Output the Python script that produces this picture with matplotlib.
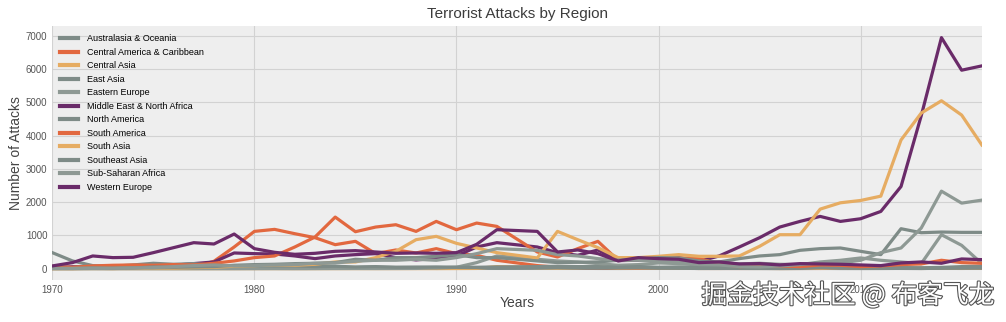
import matplotlib
matplotlib.use('Agg')
import matplotlib.pyplot as plt
import matplotlib.patheffects as pe
import pandas as pd

plt.rcParams['font.family'] = ['Liberation Sans', 'DejaVu Sans']

# years in the database (1993 is missing)
years = list(range(1970, 1993)) + list(range(1994, 2017))

australasia = [1, 1, 0, 1, 0, 0, 0, 0, 0, 1, 2, 4, 1, 2, 6, 8, 12, 20, 15, 5, 10, 12, 8,
               12, 10, 8, 5, 4, 6, 12, 8, 4, 5, 5, 3, 2, 3, 6, 3, 2, 3, 6, 3, 10, 20, 15]
central_america = [7, 5, 8, 6, 10, 20, 25, 45, 220, 650, 1120, 1180, 1050, 930, 720, 820, 450, 560, 470, 600, 450, 400, 250,
                   90, 40, 30, 20, 15, 10, 10, 8, 5, 5, 4, 5, 5, 5, 4, 8, 6, 6, 7, 8, 6, 8, 12]
central_asia = [0, 0, 0, 0, 0, 0, 0, 0, 0, 0, 0, 0, 0, 0, 0, 0, 0, 0, 0, 0, 2, 5, 60,
                30, 15, 25, 50, 20, 25, 15, 10, 5, 4, 10, 8, 3, 5, 10, 15, 20, 12, 10, 5, 8, 5, 10]
east_asia = [2, 1, 6, 4, 12, 10, 6, 20, 30, 15, 25, 20, 30, 20, 25, 30, 40, 35, 40, 30, 35, 30, 20,
             25, 30, 20, 15, 20, 25, 10, 8, 5, 5, 5, 5, 4, 6, 40, 15, 8, 8, 5, 5, 8, 10, 12]
eastern_europe = [0, 0, 1, 0, 2, 1, 0, 1, 2, 1, 2, 1, 2, 3, 2, 3, 2, 3, 5, 20, 40, 180, 380,
                  280, 230, 200, 150, 100, 120, 170, 150, 110, 150, 140, 160, 130, 120, 200, 250, 320, 250, 200, 150, 1020, 700, 150]
middle_east = [28, 55, 53, 25, 60, 95, 100, 150, 200, 470, 450, 440, 380, 300, 380, 420, 450, 330, 260, 310, 380, 650, 780,
               650, 480, 400, 560, 240, 250, 300, 330, 220, 380, 650, 930, 1250, 1420, 1570, 1420, 1500, 1720, 2470, 4600, 6950, 5970, 6100]
north_america = [480, 230, 90, 70, 110, 160, 130, 150, 100, 75, 90, 80, 80, 60, 70, 50, 60, 40, 40, 50, 40, 40, 50,
                 60, 70, 60, 60, 40, 60, 40, 50, 35, 40, 10, 25, 10, 20, 25, 20, 25, 20, 30, 25, 35, 60, 70]
south_america = [65, 40, 80, 100, 110, 100, 120, 110, 160, 230, 330, 380, 650, 950, 1550, 1110, 1250, 1320, 1120, 1420, 1170, 1370, 1270,
                 500, 350, 600, 820, 250, 280, 280, 320, 300, 150, 60, 80, 80, 60, 110, 100, 60, 80, 120, 140, 250, 180, 160]
south_asia = [1, 1, 10, 2, 15, 20, 15, 30, 40, 70, 90, 110, 100, 130, 200, 200, 330, 520, 870, 970, 760, 620, 480,
              320, 1120, 870, 630, 330, 330, 370, 420, 370, 370, 380, 670, 1020, 1020, 1790, 1980, 2050, 2180, 3870, 4680, 5050, 4620, 3720]
southeast_asia = [10, 5, 20, 10, 20, 50, 40, 50, 60, 100, 120, 130, 150, 160, 180, 280, 250, 330, 330, 370, 420, 330, 330,
                  230, 180, 190, 200, 250, 280, 330, 320, 230, 200, 300, 380, 420, 550, 600, 620, 520, 420, 1200, 1080, 1100, 1090, 1090]
sub_saharan = [3, 5, 8, 10, 20, 30, 60, 90, 110, 80, 90, 110, 120, 160, 170, 220, 250, 250, 280, 250, 330, 450, 600,
               550, 420, 380, 300, 250, 250, 230, 200, 120, 110, 60, 50, 80, 120, 170, 170, 250, 480, 620, 1220, 2330, 1970, 2060]
western_europe = [80, 180, 380, 330, 340, 480, 630, 780, 740, 1040, 600, 490, 430, 460, 520, 540, 500, 460, 470, 460, 480, 730, 1170,
                  1120, 500, 560, 450, 230, 330, 300, 280, 180, 200, 140, 150, 110, 150, 140, 130, 110, 90, 170, 200, 160, 290, 270]

regions = ['Australasia & Oceania', 'Central America & Caribbean', 'Central Asia', 'East Asia',
           'Eastern Europe', 'Middle East & North Africa', 'North America', 'South America',
           'South Asia', 'Southeast Asia', 'Sub-Saharan Africa', 'Western Europe']

df = pd.DataFrame(dict(zip(regions, [australasia, central_america, central_asia, east_asia,
                                     eastern_europe, middle_east, north_america, south_america,
                                     south_asia, southeast_asia, sub_saharan, western_europe])),
                  index=years)

palette = ['#7e8b87', '#e2683f', '#e6ac62', '#7e8b87', '#8e9994', '#6a2b69']
colors = [palette[i % len(palette)] for i in range(len(regions))]

fig = plt.figure(figsize=(10.06, 3.22), dpi=100)
ax = fig.add_axes([0.052, 0.130, 0.924, 0.789])
ax.set_facecolor('#eeeeee')
df.plot(ax=ax, color=colors, lw=2.3, legend=False)

ax.set_xlim(1970, 2016)
ax.margins(y=0.05)
ax.set_xticks([1970, 1980, 1990, 2000, 2010])
ax.set_xticklabels(['1970', '1980', '1990', '2000', '2010'])
ax.set_yticks(range(0, 8000, 1000))
ax.grid(True, color='#d2d2d2', lw=0.8)
ax.set_axisbelow(True)
for s in ax.spines.values():
    s.set_visible(False)
ax.tick_params(length=0, labelsize=7, colors='#555555', pad=3.5)

ax.set_title('Terrorist Attacks by Region', fontsize=11, color='#3c3c3c', pad=6)
ax.set_xlabel('Years', fontsize=10, color='#444444', labelpad=1)
ax.set_ylabel('Number of Attacks', fontsize=10, color='#444444', labelpad=2)

leg = ax.legend(loc='upper left', frameon=False, fontsize=6.5, labelspacing=0.5,
                handlelength=2.0, handletextpad=0.9, borderaxespad=0.5)
for line in leg.get_lines():
    line.set_linewidth(3)

fig.text(0.989, 0.04, '掘金技术社区 @ 布客飞龙', ha='right', va='bottom', fontsize=18.5,
         color='white', family=['Noto Sans CJK SC', 'DejaVu Sans'],
         path_effects=[pe.withStroke(linewidth=1.6, foreground='#555555')])

plt.savefig('out.png', dpi=100)
